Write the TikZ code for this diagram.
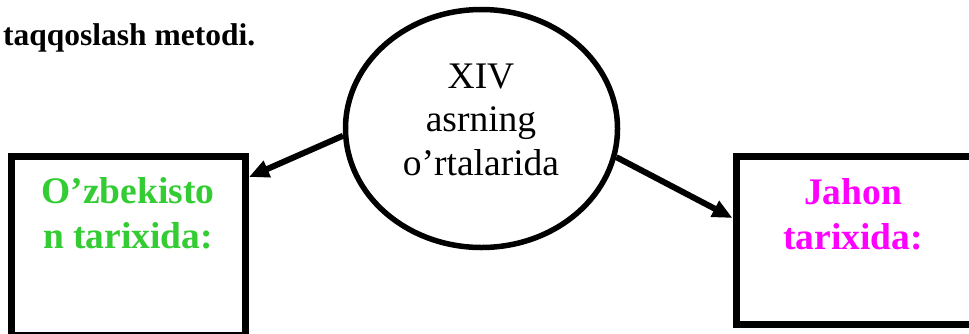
\documentclass[tikz,border=0pt]{standalone}
\usepackage{fontspec}
\setmainfont{Liberation Serif}
\usetikzlibrary{shapes.geometric,arrows.meta}
\definecolor{lgreen}{RGB}{51,204,51}
\definecolor{mag}{RGB}{255,0,255}
\begin{document}
\begin{tikzpicture}[x=1pt,y=-1pt,
  frame/.style={draw, line width=7pt, rectangle, inner sep=0pt},
  ovalbox/.style={draw, ellipse, line width=5.5pt, inner sep=0pt, minimum width=272pt, minimum height=238pt},
  arr/.style={line width=6pt, -{Triangle[length=20pt,width=17pt]}},
  boxtext/.style={font=\fontsize{37.5}{45}\selectfont\bfseries, align=center, inner sep=0pt, anchor=north},
  ovaltext/.style={font=\fontsize{37.5}{43.5}\selectfont, align=center, inner sep=0pt, anchor=north}]
\useasboundingbox (0,0) rectangle (969,333);
\clip (0,0) rectangle (969,333);
\fill[white] (0,0) rectangle (969,333);

\node[anchor=base west, font=\fontsize{31.5}{38}\selectfont\bfseries, inner sep=0pt] (title) at (3,45) {taqqoslash metodi.};

\node[ovalbox] (e) at (481.5,128.5) {};
\node[ovaltext] (et) at (481,63.5) {XIV\\asrning\\o’rtalarida};

\node[frame, minimum width=234.5pt, minimum height=178.5pt] (lb) at (128.25,245.75) {};
\node[boxtext, text=lgreen] (lt) at (128,177.5) {O’zbekisto\\n tarixida:};

\node[frame, minimum width=236pt, minimum height=168pt] (rb) at (854,240) {};
\node[boxtext, text=mag] (rt) at (853,178) {Jahon\\tarixida:};

\draw[arr] (e.183) -- ([yshift=-24pt]lb.north east);
\draw[arr] (e.-12) -- ([yshift=22pt]rb.west);
\end{tikzpicture}
\end{document}
